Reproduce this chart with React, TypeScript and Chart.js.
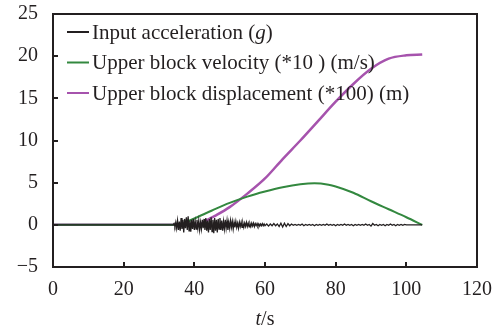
import React, { useEffect, useRef } from 'react';
import { Chart, registerables } from 'chart.js';

Chart.register(...registerables);

const xTicks = [0, 20, 40, 60, 80, 100, 120];
const yTicks = [-5, 0, 5, 10, 15, 20, 25];

const seriesLabels = [
  'Input acceleration (g)',
  'Upper block velocity (*10 ) (m/s)',
  'Upper block displacement (*100) (m)',
];
const seriesColors = ['#231f20', '#33883f', '#a653ad'];

// Input acceleration: quiet until 34 s, then record sampled every 0.25 s (34–59.75) and 0.5 s (60–104)
const accQuietStart = 0;
const accFineStart = 34;
const accFineStep = 0.25;
const accFine = [
  0, 0.15, -0.2, 0.3, -0.4, 0.5, -0.6, 0.4, -0.7, 0.8, -0.5, 0.6, -0.9, 0.7, -0.4, 0.9,
  -0.6, 1.0, -0.7, 0.5, -0.8, 0.6, -0.5, 0.7, -0.6, 0.4, -0.5, 0.6, -0.4, 0.5, -0.6, 0.3,
  -0.5, 0.6, -0.4, 0.7, -0.6, 0.8, -0.7, 0.5, -0.9, 0.7, -0.6, 0.9, -0.8, 0.6, -1.0, 0.8,
  -0.7, 0.6, -0.9, 0.7, -0.5, 0.8, -0.6, 0.5, -0.7, 0.4, -0.5, 0.6, -0.4, 0.5, -0.6, 0.3,
  -0.4, 0.5, -0.3, 0.4, -0.5, 0.3, -0.3, 0.4, -0.3, 0.2, -0.4, 0.3, -0.2, 0.3, -0.3, 0.2,
  -0.3, 0.2, -0.2, 0.3, -0.2, 0.2, -0.25, 0.15, -0.2, 0.2, -0.15, 0.2, -0.2, 0.15, -0.1, 0.15,
  -0.15, 0.1, -0.15, 0.1, -0.1, 0.15, -0.1, 0.1,
];
const accCoarseStart = 60;
const accCoarseStep = 0.5;
const accCoarse = [
  -0.1, 0.1, -0.15, 0.1, -0.1, 0.15, -0.1, 0.1, -0.2, 0.2, -0.25, 0.2, -0.2, 0.15, -0.1, 0.1,
  -0.05, 0.05, -0.05, 0.05, -0.05, 0.1, -0.1, 0.05, -0.05, 0.05, -0.05, 0.05, -0.1, 0.05,
  -0.05, 0.05, -0.05, 0.05, -0.05, 0.1, -0.05, 0.05, -0.05, 0.05, -0.1, 0.05, -0.05, 0.05,
  -0.05, 0.1, -0.05, 0.05, -0.05, 0.05, -0.1, 0.05, -0.05, 0.05, -0.05, 0.05, -0.05, 0.1,
  -0.05, 0.05, -0.15, 0.15, -0.05, 0.05, -0.1, 0.05, -0.05, 0.05, -0.1, 0.05, -0.05, 0.1,
  -0.05, 0.05, -0.1, 0.05, -0.05, 0.05, -0.05, 0.05, 0, 0, 0, 0, 0, 0, 0, 0, 0,
];
const accEnd = 104.5;

// Upper block velocity (*10)
const velTime = [0, 36.2, 38, 40, 45, 50, 55, 60, 65, 70, 74, 78, 80, 85, 90, 95, 100, 104.5];
const velValue = [0, 0, 0.4, 0.75, 1.7, 2.6, 3.35, 3.95, 4.45, 4.8, 4.92, 4.75, 4.55, 3.8, 2.8, 1.85, 0.9, 0];

// Upper block displacement (*100)
const dispTime = [0, 41, 43.5, 46, 50, 55, 60, 65, 70, 75, 80, 85, 90, 95, 100, 104.5];
const dispValue = [0, 0, 0.55, 1.1, 2.1, 3.7, 5.5, 7.8, 10.0, 12.3, 14.6, 16.7, 18.5, 19.7, 20.1, 20.2];

const FONT = "'Liberation Serif', 'Times New Roman', serif";
const TEXT = '#231f20';
const TICK_SIZE = 20;
const LEGEND_SIZE = 21;

const legendParts: { t: string; i: boolean }[][] = [
  [{ t: 'Input acceleration (', i: false }, { t: 'g', i: true }, { t: ')', i: false }],
  [{ t: 'Upper block velocity (*10 ) (m/s)', i: false }],
  [{ t: 'Upper block displacement (*100) (m)', i: false }],
];

const framePlugin = {
  id: 'frameTicksLegend',
  afterDraw(chart: any) {
    const { ctx, chartArea } = chart;
    const xs = chart.scales.x;
    const ys = chart.scales.y;
    ctx.save();
    ctx.strokeStyle = TEXT;
    ctx.lineWidth = 2;
    ctx.strokeRect(chartArea.left, chartArea.top, chartArea.right - chartArea.left, chartArea.bottom - chartArea.top);
    ctx.beginPath();
    xTicks.forEach((v) => {
      const px = Math.round(xs.getPixelForValue(v));
      ctx.moveTo(px, chartArea.bottom);
      ctx.lineTo(px, chartArea.bottom - 5);
    });
    yTicks.forEach((v) => {
      const py = Math.round(ys.getPixelForValue(v));
      ctx.moveTo(chartArea.left, py);
      ctx.lineTo(chartArea.left + 5, py);
    });
    ctx.stroke();

    // axis title t/s
    ctx.fillStyle = TEXT;
    ctx.textBaseline = 'middle';
    const cx = (chartArea.left + chartArea.right) / 2;
    ctx.font = `italic ${TICK_SIZE}px ${FONT}`;
    const wt = ctx.measureText('t').width;
    ctx.font = `${TICK_SIZE}px ${FONT}`;
    const ws = ctx.measureText('/s').width;
    const x0 = cx - (wt + ws) / 2;
    ctx.font = `italic ${TICK_SIZE}px ${FONT}`;
    ctx.textAlign = 'left';
    ctx.fillText('t', x0, 320);
    ctx.font = `${TICK_SIZE}px ${FONT}`;
    ctx.fillText('/s', x0 + wt, 320);

    // legend
    chart.data.datasets.forEach((ds: any, i: number) => {
      const y = 32 + i * 30.5;
      ctx.strokeStyle = ds.borderColor;
      ctx.lineWidth = 2;
      ctx.beginPath();
      ctx.moveTo(67, y);
      ctx.lineTo(89, y);
      ctx.stroke();
      let x = 92;
      ctx.fillStyle = TEXT;
      legendParts[i].forEach((p) => {
        ctx.font = `${p.i ? 'italic ' : ''}${LEGEND_SIZE}px ${FONT}`;
        ctx.fillText(p.t, x, y + 1);
        x += ctx.measureText(p.t).width;
      });
    });
    ctx.restore();
  },
};

export default function App() {
  const ref = useRef<HTMLCanvasElement | null>(null);
  useEffect(() => {
    if (!ref.current) return;
    const accData = [
      { x: accQuietStart, y: 0 },
      ...accFine.map((v, i) => ({ x: accFineStart + i * accFineStep, y: v })),
      ...accCoarse.map((v, i) => ({ x: accCoarseStart + i * accCoarseStep, y: v })),
      { x: accEnd, y: 0 },
    ];
    const velData = velTime.map((t, i) => ({ x: t, y: velValue[i] }));
    const dispData = dispTime.map((t, i) => ({ x: t, y: dispValue[i] }));
    const tickFont = { family: FONT, size: TICK_SIZE };
    const chart = new Chart(ref.current, {
      type: 'line',
      data: {
        datasets: [
          { label: seriesLabels[0], data: accData, borderColor: seriesColors[0], borderWidth: 1.3, pointRadius: 0, tension: 0 },
          { label: seriesLabels[1], data: velData, borderColor: seriesColors[1], borderWidth: 2, pointRadius: 0, cubicInterpolationMode: 'monotone' },
          { label: seriesLabels[2], data: dispData, borderColor: seriesColors[2], borderWidth: 2.5, pointRadius: 0, cubicInterpolationMode: 'monotone' },
        ],
      },
      options: {
        animation: false,
        responsive: false,
        maintainAspectRatio: false,
        layout: { padding: { left: 0, right: 22, top: 14, bottom: 0 } },
        plugins: { legend: { display: false }, tooltip: { enabled: false } },
        scales: {
          x: {
            type: 'linear',
            min: 0,
            max: 120,
            afterBuildTicks: (s: any) => { s.ticks = xTicks.map((v) => ({ value: v })); },
            grid: { display: false, drawTicks: false },
            border: { display: false },
            ticks: { font: tickFont, color: TEXT, padding: 11, maxRotation: 0, autoSkip: false },
            afterFit: (s: any) => { s.height = 65; s.paddingLeft = 0; s.paddingRight = 0; },
          },
          y: {
            type: 'linear',
            min: -5,
            max: 25,
            afterBuildTicks: (s: any) => { s.ticks = yTicks.map((v) => ({ value: v })); },
            grid: { display: false, drawTicks: false },
            border: { display: false },
            ticks: { font: tickFont, color: TEXT, padding: 15, autoSkip: false, callback: (v: any) => (v < 0 ? '\u2212' + Math.abs(v) : String(v)) },
            afterFit: (s: any) => { s.width = 53; s.paddingTop = 0; s.paddingBottom = 0; },
          },
        },
      } as any,
      plugins: [framePlugin],
    });
    return () => chart.destroy();
  }, []);
  return (
    <div style={{ position: 'absolute', left: 0, top: 0, width: 499, height: 332, background: '#fff' }}>
      <canvas ref={ref} width={499} height={332} style={{ display: 'block' }} />
    </div>
  );
}
